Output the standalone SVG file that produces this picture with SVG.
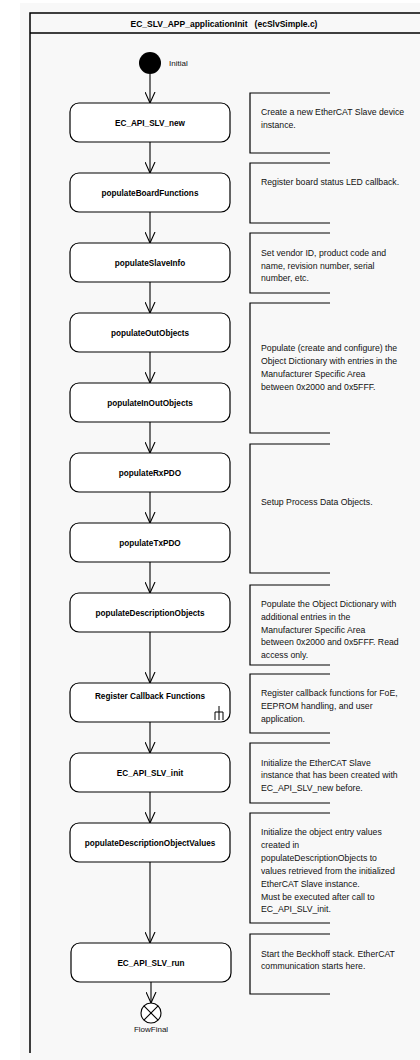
<svg xmlns="http://www.w3.org/2000/svg" width="420" height="1060" viewBox="0 0 420 1060">
<defs>
<style>
.act{fill:#fff;stroke:#000;stroke-width:1.2}
.lbl{font-family:"Liberation Sans",Arial,sans-serif;font-size:8.2px;font-weight:bold;fill:#000;text-anchor:middle}
.note{fill:none;stroke:#000;stroke-width:1.2}
.nt{font-family:"Liberation Sans",Arial,sans-serif;font-size:8.7px;fill:#111}
.edge{stroke:#000;stroke-width:1.1;fill:none}
</style>
<marker id="arr" markerUnits="userSpaceOnUse" markerWidth="12" markerHeight="11" viewBox="0 0 12 11" refX="11" refY="5.5" orient="auto">
<path d="M0,0.5 L11,5.5 L0,10.5" fill="none" stroke="#000" stroke-width="1.1"/>
</marker>
</defs>
<rect x="0" y="0" width="420" height="1060" fill="#fff"/>
<rect x="20" y="3" width="400" height="1057" fill="#f8f8f8"/>
<g id="frame">
<path d="M420,13 L30,13 L30,1053" fill="none" stroke="#000" stroke-width="1.5"/>
<line x1="30" y1="33" x2="420" y2="33" stroke="#000" stroke-width="1.5"/>
<text x="224" y="26.5" class="lbl" style="font-size:8.5px;white-space:pre" xml:space="preserve">EC_SLV_APP_applicationInit   (ecSlvSimple.c)</text>
</g>
<g id="connectors">
<line class="edge" x1="150" y1="74" x2="150" y2="103" marker-end="url(#arr)"/>
<line class="edge" x1="150" y1="142" x2="150" y2="173" marker-end="url(#arr)"/>
<line class="edge" x1="150" y1="212" x2="150" y2="243" marker-end="url(#arr)"/>
<line class="edge" x1="150" y1="282" x2="150" y2="313" marker-end="url(#arr)"/>
<line class="edge" x1="150" y1="352" x2="150" y2="383" marker-end="url(#arr)"/>
<line class="edge" x1="150" y1="422" x2="150" y2="453" marker-end="url(#arr)"/>
<line class="edge" x1="150" y1="492" x2="150" y2="523" marker-end="url(#arr)"/>
<line class="edge" x1="150" y1="562" x2="150" y2="593" marker-end="url(#arr)"/>
<line class="edge" x1="150" y1="632" x2="150" y2="683" marker-end="url(#arr)"/>
<line class="edge" x1="150" y1="722" x2="150" y2="753" marker-end="url(#arr)"/>
<line class="edge" x1="150" y1="792" x2="150" y2="823" marker-end="url(#arr)"/>
<line class="edge" x1="150" y1="862" x2="150" y2="943" marker-end="url(#arr)"/>
<line class="edge" x1="151" y1="982" x2="151" y2="1003" marker-end="url(#arr)"/>
</g>
<g id="initial">
<circle cx="150" cy="63" r="11" fill="#000"/>
<text x="169" y="66" class="nt" style="font-size:8px">Initial</text>
</g>
<g id="n1"><rect class="act" x="70" y="103" width="160" height="39" rx="9"/><text class="lbl" x="150" y="125.5">EC_API_SLV_new</text></g>
<g id="n2"><rect class="act" x="70" y="173" width="160" height="39" rx="9"/><text class="lbl" x="150" y="195.5">populateBoardFunctions</text></g>
<g id="n3"><rect class="act" x="70" y="243" width="160" height="39" rx="9"/><text class="lbl" x="150" y="265.5">populateSlaveInfo</text></g>
<g id="n4"><rect class="act" x="70" y="313" width="160" height="39" rx="9"/><text class="lbl" x="150" y="335.5">populateOutObjects</text></g>
<g id="n5"><rect class="act" x="70" y="383" width="160" height="39" rx="9"/><text class="lbl" x="150" y="405.5">populateInOutObjects</text></g>
<g id="n6"><rect class="act" x="70" y="453" width="160" height="39" rx="9"/><text class="lbl" x="150" y="475.5">populateRxPDO</text></g>
<g id="n7"><rect class="act" x="70" y="523" width="160" height="39" rx="9"/><text class="lbl" x="150" y="545.5">populateTxPDO</text></g>
<g id="n8"><rect class="act" x="70" y="593" width="160" height="39" rx="9"/><text class="lbl" x="150" y="615.5">populateDescriptionObjects</text></g>
<g id="n9"><rect class="act" x="70" y="683" width="160" height="39" rx="9"/><text class="lbl" x="150" y="698.5">Register Callback Functions</text>
<path d="M219,706 L219,720 M215,712 L223,712 M215,712 L215,720 M223,712 L223,720" fill="none" stroke="#000" stroke-width="1"/></g>
<g id="n10"><rect class="act" x="70" y="753" width="160" height="39" rx="9"/><text class="lbl" x="150" y="775.5">EC_API_SLV_init</text></g>
<g id="n11"><rect class="act" x="70" y="823" width="160" height="39" rx="9"/><text class="lbl" x="150" y="845.5">populateDescriptionObjectValues</text></g>
<g id="n12"><rect class="act" x="71" y="943" width="160" height="39" rx="9"/><text class="lbl" x="151" y="965.5">EC_API_SLV_run</text></g>
<g id="final">
<circle cx="151" cy="1013" r="10" fill="#fff" stroke="#000" stroke-width="1.1"/>
<path d="M143.9,1005.9 L158.1,1020.1 M158.1,1005.9 L143.9,1020.1" stroke="#000" stroke-width="1.1"/>
<text x="151" y="1032" class="nt" style="font-size:8px" text-anchor="middle">FlowFinal</text>
</g>
<g id="note1"><path class="note" d="M330,93 L250,93 L250,153 L330,153"/>
<text class="nt" x="261" y="115">Create a new EtherCAT Slave device</text><text class="nt" x="261" y="127.5">instance.</text></g>
<g id="note2"><path class="note" d="M330,163 L250,163 L250,223 L330,223"/>
<text class="nt" x="261" y="185">Register board status LED callback.</text></g>
<g id="note3"><path class="note" d="M330,233 L250,233 L250,293 L330,293"/>
<text class="nt" x="261" y="256">Set vendor ID, product code and</text><text class="nt" x="261" y="268.7">name, revision number, serial</text><text class="nt" x="261" y="281.4">number, etc.</text></g>
<g id="note4"><path class="note" d="M330,303 L250,303 L250,433 L330,433"/>
<text class="nt" x="261" y="351">Populate (create and configure) the</text><text class="nt" x="261" y="364">Object Dictionary with entries in the</text><text class="nt" x="261" y="377">Manufacturer Specific Area</text><text class="nt" x="261" y="390">between 0x2000 and 0x5FFF.</text></g>
<g id="note5"><path class="note" d="M330,444 L250,444 L250,573 L330,573"/>
<text class="nt" x="261" y="505">Setup Process Data Objects.</text></g>
<g id="note6"><path class="note" d="M330,585 L250,585 L250,665 L330,665"/>
<text class="nt" x="261" y="607">Populate the Object Dictionary with</text><text class="nt" x="261" y="620">additional entries in the</text><text class="nt" x="261" y="632.7">Manufacturer Specific Area</text><text class="nt" x="261" y="645.4">between 0x2000 and 0x5FFF. Read</text><text class="nt" x="261" y="658">access only.</text></g>
<g id="note7"><path class="note" d="M330,674 L250,674 L250,733 L330,733"/>
<text class="nt" x="261" y="696">Register callback functions for FoE,</text><text class="nt" x="261" y="709">EEPROM handling, and user</text><text class="nt" x="261" y="721.5">application.</text></g>
<g id="note8"><path class="note" d="M330,743 L250,743 L250,803 L330,803"/>
<text class="nt" x="261" y="765.5">Initialize the EtherCAT Slave</text><text class="nt" x="261" y="778">instance that has been created with</text><text class="nt" x="261" y="791">EC_API_SLV_new before.</text></g>
<g id="note9"><path class="note" d="M330,813 L250,813 L250,923 L330,923"/>
<text class="nt" x="261" y="835">Initialize the object entry values</text><text class="nt" x="261" y="848">created in</text><text class="nt" x="261" y="861">populateDescriptionObjects to</text><text class="nt" x="261" y="873.5">values retrieved from the initialized</text><text class="nt" x="261" y="886.5">EtherCAT Slave instance.</text><text class="nt" x="261" y="899.5">Must be executed after call to</text><text class="nt" x="261" y="912">EC_API_SLV_init.</text></g>
<g id="note10"><path class="note" d="M330,934 L250,934 L250,994 L330,994"/>
<text class="nt" x="261" y="956.5">Start the Beckhoff stack. EtherCAT</text><text class="nt" x="261" y="969">communication starts here.</text></g>
</svg>
